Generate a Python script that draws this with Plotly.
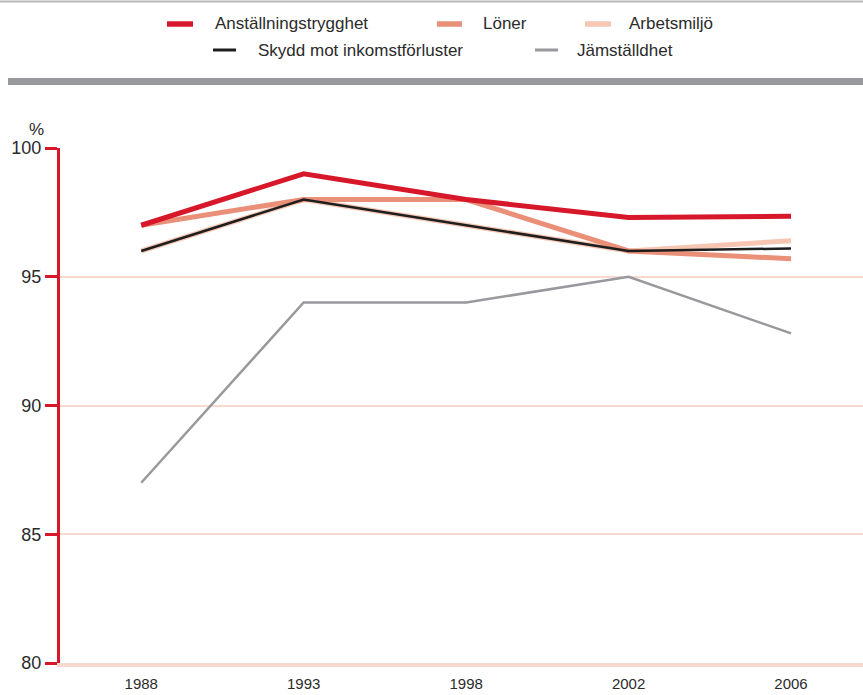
import plotly.graph_objects as go

years = ["1988", "1993", "1998", "2002", "2006"]
series_names = ["Anställningstrygghet", "Löner", "Arbetsmiljö",
                "Skydd mot inkomstförluster", "Jämställdhet"]
anstallning = [97, 99, 98, 97.3, 97.35]
loner = [97, 98, 98, 96, 95.7]
arbetsmiljo = [96, 98, 97, 96, 96.4]
skydd = [96, 98, 97, 96, 96.1]
jamstalldhet = [87, 94, 94, 95, 92.8]
y_ticks = [80, 85, 90, 95, 100]

colors = {
    "Anställningstrygghet": "#d7182a",
    "Löner": "#ea8f78",
    "Arbetsmiljö": "#f6c6b3",
    "Skydd mot inkomstförluster": "#1e1e1e",
    "Jämställdhet": "#98999c",
}
widths = {
    "Anställningstrygghet": 5,
    "Löner": 5,
    "Arbetsmiljö": 5,
    "Skydd mot inkomstförluster": 2.5,
    "Jämställdhet": 2.5,
}
values = {
    "Anställningstrygghet": anstallning,
    "Löner": loner,
    "Arbetsmiljö": arbetsmiljo,
    "Skydd mot inkomstförluster": skydd,
    "Jämställdhet": jamstalldhet,
}

FONT = "Liberation Sans, Arial, sans-serif"
TXT = "#2b2b2b"
W, H = 863, 695
L, R, T, B = 60, 0, 148, 32
PW, PH = W - L - R, H - T - B


def px(x):
    return (x - L) / PW


def py(y):
    return (H - B - y) / PH


fig = go.Figure()
draw_order = ["Arbetsmiljö", "Löner", "Skydd mot inkomstförluster",
              "Jämställdhet", "Anställningstrygghet"]
for name in draw_order:
    fig.add_trace(go.Scatter(
        x=years, y=values[name], mode="lines", name=name,
        line=dict(color=colors[name], width=widths[name]),
        showlegend=False, hoverinfo="skip"))

shapes = []
annotations = []
# decorative lines
shapes.append(dict(type="line", xref="paper", yref="paper",
                   x0=px(0), x1=px(W), y0=py(1.5), y1=py(1.5),
                   line=dict(color="#b5b6b8", width=2)))
shapes.append(dict(type="rect", xref="paper", yref="paper",
                   x0=px(8), x1=px(W), y0=py(78), y1=py(85),
                   fillcolor="#98999c", line=dict(width=0)))

# manual legend
legend_pos = [
    ("Anställningstrygghet", 167, 193, 213, 24),
    ("Löner", 437, 462, 481, 24),
    ("Arbetsmiljö", 585, 611, 627, 24),
    ("Skydd mot inkomstförluster", 213, 236, 256, 50),
    ("Jämställdhet", 535, 558, 575, 50),
]
for name, sx0, sx1, tx, yy in legend_pos:
    shapes.append(dict(type="line", xref="paper", yref="paper",
                       x0=px(sx0), x1=px(sx1), y0=py(yy), y1=py(yy),
                       line=dict(color=colors[name], width=widths[name] + 0.5)))
    annotations.append(dict(text=name, xref="paper", yref="paper",
                            x=px(tx), y=py(yy), xanchor="left", yanchor="middle",
                            showarrow=False,
                            font=dict(family=FONT, size=17, color=TXT)))

annotations.append(dict(text="%", xref="paper", yref="paper",
                        x=px(36), y=py(129), xanchor="center", yanchor="middle",
                        showarrow=False, font=dict(family=FONT, size=17, color=TXT)))

fig.update_layout(
    width=W, height=H,
    margin=dict(l=L, r=R, t=T, b=B, pad=0),
    paper_bgcolor="white", plot_bgcolor="white",
    shapes=shapes, annotations=annotations,
    showlegend=False,
    xaxis=dict(type="category", range=[-0.5, 4.443], showgrid=False,
               showline=True, linecolor="#f8d9cf", linewidth=4,
               ticks="", tickfont=dict(family=FONT, size=15, color=TXT),
               ticklabelstandoff=4, zeroline=False, fixedrange=True),
    yaxis=dict(range=[80, 100], tickvals=y_ticks, showgrid=True,
               gridcolor="#f8d9cf", gridwidth=2,
               showline=True, linecolor="#d7182a", linewidth=3,
               ticks="outside", ticklen=12, tickwidth=3, tickcolor="#d7182a",
               tickfont=dict(family=FONT, size=18, color=TXT),
               zeroline=False, fixedrange=True),
)

fig.write_html("out.html", config={"displayModeBar": False},
               post_script="document.body.style.margin='0';document.body.style.overflow='hidden';")
